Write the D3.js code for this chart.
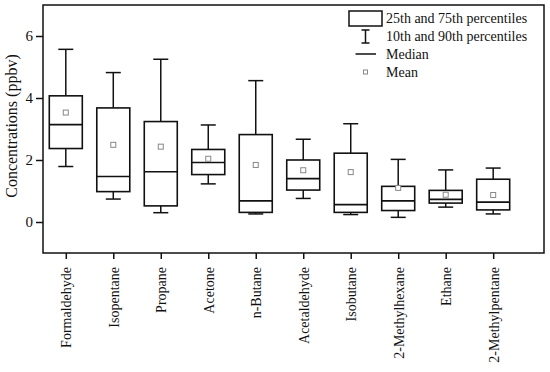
<!DOCTYPE html>
<html>
<head>
<meta charset="utf-8">
<script src="https://cdn.jsdelivr.net/npm/d3@7"></script>
<style>
  body { margin: 0; background: #fff; }
  svg text { font-family: "Liberation Serif", "Times New Roman", serif; fill: #111; }
</style>
</head>
<body>
<svg id="chart" width="550" height="372"></svg>
<script>
// compounds
var compounds = ["Formaldehyde", "Isopentane", "Propane", "Acetone", "n-Butane",
                 "Acetaldehyde", "Isobutane", "2-Methylhexane", "Ethane", "2-Methylpentane"];
var p10    = [1.79, 0.74, 0.30, 1.23, 0.26, 0.76, 0.24, 0.15, 0.48, 0.26];
var p25    = [2.37, 0.98, 0.52, 1.53, 0.31, 1.03, 0.31, 0.37, 0.61, 0.39];
var median = [3.14, 1.47, 1.62, 1.92, 0.68, 1.40, 0.56, 0.68, 0.73, 0.64];
var p75    = [4.07, 3.68, 3.24, 2.34, 2.82, 2.00, 2.22, 1.15, 1.02, 1.38];
var p90    = [5.57, 4.82, 5.25, 3.13, 4.56, 2.67, 3.17, 2.02, 1.68, 1.74];
var mean   = [3.53, 2.49, 2.43, 2.04, 1.84, 1.67, 1.61, 1.10, 0.88, 0.87];
var yTicks = [0, 2, 4, 6];
var legendLabels = ["25th and 75th percentiles", "10th and 90th percentiles", "Median", "Mean"];

var svg = d3.select("#chart");
var plotL = 43, plotR = 544, plotT = 5, plotB = 253;

var x = d3.scaleLinear().domain([0.52, 11.07]).range([plotL, plotR]);
var y = d3.scaleLinear().domain([-1, 7]).range([plotB, plotT]);

var data = compounds.map(function(c, i) {
  return { name: c, pos: i + 1, p10: p10[i], p25: p25[i], med: median[i], p75: p75[i], p90: p90[i], mean: mean[i] };
});

var boxW = 33, capW = 15;

// axes
var yAxis = svg.append("g")
  .attr("transform", "translate(" + plotL + ",0)")
  .call(d3.axisLeft(y).tickValues(yTicks).tickSize(7).tickPadding(3).tickFormat(d3.format("d")));
yAxis.select(".domain").remove();
yAxis.selectAll("line").attr("stroke", "#111").attr("stroke-width", 1.5);
yAxis.selectAll("text").style("font-size", "15px");

var xAxis = svg.append("g")
  .attr("transform", "translate(0," + plotB + ")")
  .call(d3.axisBottom(x).tickValues(data.map(function(d) { return d.pos; })).tickSize(6)
        .tickFormat(function(d) { return compounds[d - 1]; }));
xAxis.select(".domain").remove();
xAxis.selectAll("line").attr("stroke", "#111").attr("stroke-width", 1.5);
xAxis.selectAll("text")
  .style("font-size", "14px")
  .attr("text-anchor", "end")
  .attr("transform", "rotate(-90)")
  .attr("x", -14)
  .attr("y", 0)
  .attr("dy", "0.35em");

// frame
svg.append("rect")
  .attr("x", plotL).attr("y", plotT)
  .attr("width", plotR - plotL).attr("height", plotB - plotT)
  .attr("fill", "none").attr("stroke", "#111").attr("stroke-width", 1.5);

svg.append("text")
  .attr("transform", "translate(17," + ((plotT + plotB) / 2 - 3) + ") rotate(-90)")
  .attr("text-anchor", "middle")
  .style("font-size", "16px")
  .text("Concentrations (ppbv)");

// boxes
var g = svg.selectAll(".box").data(data).enter().append("g").attr("class", "box");

g.append("line")
  .attr("x1", function(d) { return x(d.pos); }).attr("x2", function(d) { return x(d.pos); })
  .attr("y1", function(d) { return y(d.p90); }).attr("y2", function(d) { return y(d.p75); })
  .attr("stroke", "#111").attr("stroke-width", 1.5);
g.append("line")
  .attr("x1", function(d) { return x(d.pos); }).attr("x2", function(d) { return x(d.pos); })
  .attr("y1", function(d) { return y(d.p25); }).attr("y2", function(d) { return y(d.p10); })
  .attr("stroke", "#111").attr("stroke-width", 1.5);
["p90", "p10"].forEach(function(k) {
  g.append("line")
    .attr("x1", function(d) { return x(d.pos) - capW / 2; }).attr("x2", function(d) { return x(d.pos) + capW / 2; })
    .attr("y1", function(d) { return y(d[k]); }).attr("y2", function(d) { return y(d[k]); })
    .attr("stroke", "#111").attr("stroke-width", 1.5);
});
g.append("rect")
  .attr("x", function(d) { return x(d.pos) - boxW / 2; })
  .attr("y", function(d) { return y(d.p75); })
  .attr("width", boxW)
  .attr("height", function(d) { return y(d.p25) - y(d.p75); })
  .attr("fill", "none").attr("stroke", "#111").attr("stroke-width", 1.6);
g.append("line")
  .attr("x1", function(d) { return x(d.pos) - boxW / 2; }).attr("x2", function(d) { return x(d.pos) + boxW / 2; })
  .attr("y1", function(d) { return y(d.med); }).attr("y2", function(d) { return y(d.med); })
  .attr("stroke", "#111").attr("stroke-width", 1.6);
g.append("rect")
  .attr("x", function(d) { return x(d.pos) - 2.5; })
  .attr("y", function(d) { return y(d.mean) - 2.5; })
  .attr("width", 5).attr("height", 5)
  .attr("fill", "#fff").attr("stroke", "#888").attr("stroke-width", 1);

// legend
var lg = svg.append("g").attr("transform", "translate(349,0)");
lg.append("rect").attr("x", 0).attr("y", 11).attr("width", 33).attr("height", 15)
  .attr("fill", "none").attr("stroke", "#111").attr("stroke-width", 1.5);
lg.append("line").attr("x1", 16.5).attr("x2", 16.5).attr("y1", 30).attr("y2", 43).attr("stroke", "#111").attr("stroke-width", 1.5);
lg.append("line").attr("x1", 12.5).attr("x2", 20.5).attr("y1", 30).attr("y2", 30).attr("stroke", "#111").attr("stroke-width", 1.5);
lg.append("line").attr("x1", 12.5).attr("x2", 20.5).attr("y1", 43).attr("y2", 43).attr("stroke", "#111").attr("stroke-width", 1.5);
lg.append("line").attr("x1", 6.5).attr("x2", 27).attr("y1", 54).attr("y2", 54).attr("stroke", "#111").attr("stroke-width", 1.5);
lg.append("rect").attr("x", 14.5).attr("y", 70).attr("width", 4).attr("height", 4)
  .attr("fill", "#fff").attr("stroke", "#888").attr("stroke-width", 1);
lg.selectAll("text.leg").data(legendLabels).enter().append("text")
  .attr("class", "leg")
  .attr("x", 37)
  .attr("y", function(d, i) { return 18 + i * 18; })
  .attr("dy", "0.35em")
  .style("font-size", "14px")
  .text(function(d) { return d; });
</script>
</body>
</html>
